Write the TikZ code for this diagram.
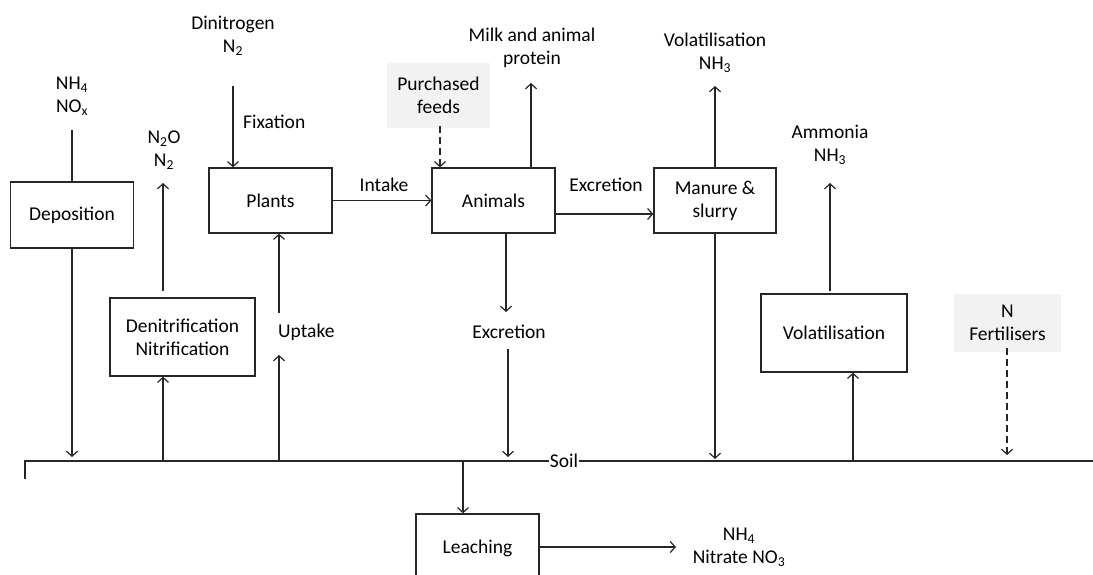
\documentclass[tikz,border=0pt]{standalone}
\usepackage{fontspec}
\setmainfont{Carlito}
\usetikzlibrary{arrows.meta}
\definecolor{ln}{HTML}{262626}
\definecolor{gbox}{HTML}{F2F2F2}
\newcommand\sbs[1]{\textsubscript{#1}}
\tikzset{
  every node/.style={font=\fontsize{19.5}{23}\selectfont, text=black, align=center},
  box/.style={draw=ln, line width=1.3pt, inner sep=0pt},
  gray box/.style={fill=gbox, inner sep=0pt},
  lbl/.style={inner sep=0pt},
  conn/.style={draw=ln, line width=1.3pt},
  arr/.style={conn, -{Straight Barb[length=5pt,width=11pt,line width=1.2pt]}},
  darr/.style={arr, dash pattern=on 7pt off 4pt}
}
\begin{document}
\begin{tikzpicture}[x=1pt,y=-1pt]
\useasboundingbox (0,0) rectangle (1093,575);
\clip (0,0) rectangle (1093,575);
% boxes
\node[box, minimum width=123pt, minimum height=66pt] (dep) at (72,215) {Deposition};
\node[box, minimum width=123pt, minimum height=65pt] (plants) at (270.5,200.5) {Plants};
\node[box, minimum width=123pt, minimum height=65pt] (animals) at (493.5,200.5) {Animals};
\node[box, minimum width=122pt, minimum height=65pt] (manure) at (715,200.5) {Manure \&\\slurry};
\node[box, minimum width=145pt, minimum height=78pt] (denit) at (182.5,337) {Denitrification\\Nitrification};
\node[box, minimum width=146pt, minimum height=78pt] (volat) at (834,333) {Volatilisation};
\node[box, minimum width=123pt, minimum height=68pt] (leach) at (477.5,548) {Leaching};
\node[gray box, minimum width=103pt, minimum height=65pt] (purch) at (438.5,95.5) {Purchased\\feeds};
\node[gray box, minimum width=107pt, minimum height=58pt] (fert) at (1007.5,323) {N\\Fertilisers};
% text labels
\node[lbl] (depin) at (72,96) {NH\sbs{4}\\NO\sbs{x}};
\node[lbl] (n2o) at (164,150) {N\sbs{2}O\\N\sbs{2}};
\node[lbl] (dinit) at (233,36) {Dinitrogen\\N\sbs{2}};
\node[lbl] (milk) at (532,48) {Milk and animal\\protein};
\node[lbl] (volnh) at (715,53) {Volatilisation\\NH\sbs{3}};
\node[lbl] (ammon) at (830,145) {Ammonia\\NH\sbs{3}};
\node[lbl] (leachout) at (739,547) {NH\sbs{4}\\Nitrate NO\sbs{3}};
\node[lbl, anchor=west] (fixlbl) at (243,122) {Fixation};
\node[lbl] (intlbl) at (384,185) {Intake};
\node[lbl] (exclbl) at (606,185) {Excretion};
\node[lbl, anchor=west] (uplbl) at (278,332) {Uptake};
\node[lbl] (exc2lbl) at (509,332) {Excretion};
% free ends
\coordinate (depTop) at (72,130);
\coordinate (depSoil) at (72,457);
\coordinate (n2oLow) at (163,291);
\coordinate (n2oTip) at (163,183);
\coordinate (denSoil) at (163,461);
\coordinate (upSoil) at (279,461);
\coordinate (upA) at (279,355);
\coordinate (upB) at (279,313);
\coordinate (fixTop) at (233,86);
\coordinate (purchBot) at (440,126);
\coordinate (milkTip) at (531,83);
\coordinate (exA) at (506,312);
\coordinate (exB) at (508,349);
\coordinate (exSoil) at (508,457);
\coordinate (manTip) at (715,86);
\coordinate (manSoil) at (715,459);
\coordinate (volLow) at (830,291);
\coordinate (volTip) at (830,183);
\coordinate (volSoil) at (853,461);
\coordinate (fertBot) at (1007,348);
\coordinate (fertSoil) at (1007,455);
\coordinate (leSoil) at (463,461);
\coordinate (leOut) at (676,547);
\coordinate (soilTick) at (25,479);
\coordinate (soilL) at (25,461);
\coordinate (soilR) at (1093,461);
% soil line
\draw[conn] (soilTick) -- (soilL) -- (soilR);
\node[fill=white, inner sep=1pt] (soil) at (564,461) {Soil};
% connectors
\draw[conn] (depTop) -- (depTop |- dep.north);
\draw[arr] (dep.south) -- (depSoil);
\draw[arr] (n2oLow) -- (n2oTip);
\draw[arr] (denSoil) -- (denSoil |- denit.south);
\draw[arr] (upSoil) -- (upA);
\draw[arr] (upB) -- (upB |- plants.south);
\draw[arr] (fixTop) -- (fixTop |- plants.north);
\draw[arr] (plants.east) -- (animals.west);
\draw[darr] (purchBot) -- (purchBot |- animals.north);
\draw[arr] (milkTip |- animals.north) -- (milkTip);
\draw[arr] (animals.south -| exA) -- (exA);
\draw[arr] (exB) -- (exSoil);
\draw[arr] ([yshift=-13.5pt]animals.east) -- ([yshift=-13.5pt]manure.west);
\draw[arr] (manure.north) -- (manTip);
\draw[arr] (manure.south) -- (manSoil);
\draw[arr] (volLow) -- (volTip);
\draw[arr] (volSoil) -- (volSoil |- volat.south);
\draw[darr] (fertBot) -- (fertSoil);
\draw[arr] (leSoil) -- (leSoil |- leach.north);
\draw[arr] (leach.east |- leOut) -- (leOut);
\end{tikzpicture}
\end{document}
